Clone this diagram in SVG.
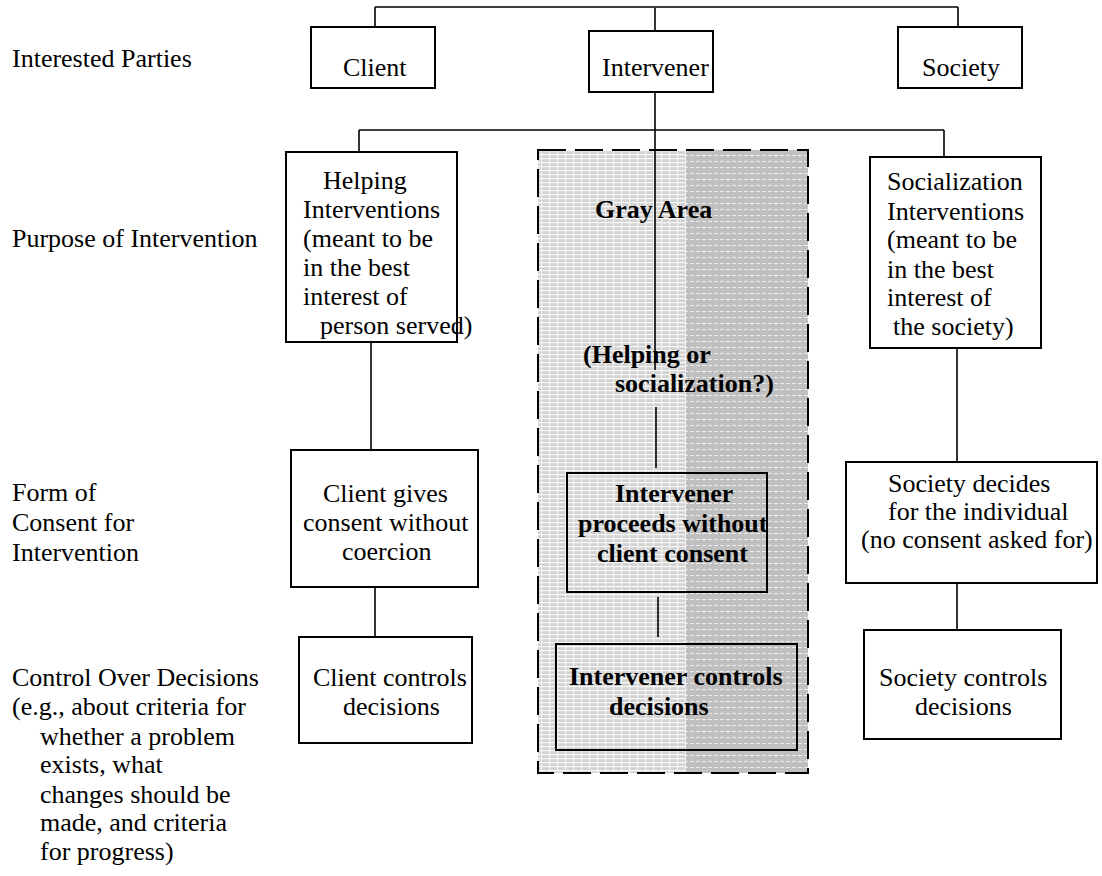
<svg xmlns="http://www.w3.org/2000/svg" width="1102" height="876" viewBox="0 0 1102 876">
<style>
text{font-family:"Liberation Serif","Times New Roman",serif;font-size:26px;fill:#000}
.b{font-weight:bold}
.box{fill:none;stroke:#000;stroke-width:2}
.wbox{fill:#fff;stroke:#000;stroke-width:2}
.ln{stroke:#000;stroke-width:1.6;fill:none}
</style>
<defs>
<pattern id="pl" width="8" height="4" patternUnits="userSpaceOnUse">
<rect width="8" height="4" fill="#d2d2d2"/>
<rect y="2" width="8" height="1.2" fill="#fafafa"/>
<rect x="5" width="1.2" height="4" fill="#f2f2f2"/>
</pattern>
<pattern id="pr" width="6" height="6" patternUnits="userSpaceOnUse">
<rect width="6" height="6" fill="#c0c0c0"/>
<rect y="5" width="4" height="1" fill="#ececec"/>
</pattern>
</defs>
<rect width="1102" height="876" fill="#fff"/>

<g id="gray-area">
<rect x="538" y="150" width="148" height="623" fill="url(#pl)"/>
<rect x="686" y="150" width="122" height="623" fill="url(#pr)"/>
<rect x="538" y="150" width="270" height="623" fill="none" stroke="#000" stroke-width="2" stroke-dasharray="28 9"/>
<text class="b" x="595" y="218">Gray Area</text>
<text class="b" x="583" y="363">(Helping or</text>
<text class="b" x="615" y="392">socialization?)</text>
</g>

<g id="labels">
<text x="12" y="67">Interested Parties</text>
<text x="12" y="247">Purpose of Intervention</text>
<text x="12" y="501">Form of</text>
<text x="12" y="531">Consent for</text>
<text x="12" y="561">Intervention</text>
<text x="12" y="686">Control Over Decisions</text>
<text x="12" y="715">(e.g., about criteria for</text>
<text x="40" y="745">whether a problem</text>
<text x="40" y="773">exists, what</text>
<text x="40" y="803">changes should be</text>
<text x="40" y="831">made, and criteria</text>
<text x="40" y="860">for progress)</text>
</g>

<g id="connectors">
<path class="ln" d="M375 7H958"/>
<path class="ln" d="M375 7V27"/>
<path class="ln" d="M655 8V31" stroke-width="2.4"/>
<path class="ln" d="M958 7V27"/>
<path class="ln" d="M655 92V370"/>
<path class="ln" d="M359 130H944"/>
<path class="ln" d="M359 130V152"/>
<path class="ln" d="M944 130V157"/>
<path class="ln" d="M656 407V468"/>
<path class="ln" d="M658 597V637"/>
<path class="ln" d="M371 342V450"/>
<path class="ln" d="M375 587V637"/>
<path class="ln" d="M957 348V462"/>
<path class="ln" d="M957 583V630"/>
</g>

<g id="client">
<rect class="wbox" x="311" y="27" width="124" height="61"/>
<text x="343" y="76">Client</text>
</g>
<g id="intervener">
<rect class="wbox" x="589" y="31" width="124" height="61"/>
<text x="602" y="76">Intervener</text>
</g>
<g id="society">
<rect class="wbox" x="898" y="27" width="124" height="61"/>
<text x="922" y="76">Society</text>
</g>

<g id="helping">
<rect class="wbox" x="286" y="152" width="171" height="190"/>
<text x="323" y="189">Helping</text>
<text x="303" y="218">Interventions</text>
<text x="303" y="247">(meant to be</text>
<text x="303" y="276">in the best</text>
<text x="303" y="305">interest of</text>
<text x="320" y="334">person served)</text>
</g>

<g id="socialization">
<rect class="wbox" x="870" y="157" width="171" height="191"/>
<text x="887" y="190">Socialization</text>
<text x="887" y="220">Interventions</text>
<text x="887" y="248">(meant to be</text>
<text x="887" y="278">in the best</text>
<text x="887" y="306">interest of</text>
<text x="893" y="335">the society)</text>
</g>

<g id="client-consent">
<rect class="wbox" x="291" y="450" width="187" height="137"/>
<text x="323" y="502">Client gives</text>
<text x="303" y="531">consent without</text>
<text x="342" y="560">coercion</text>
</g>

<g id="intervener-consent">
<rect class="box" x="567" y="473" width="200" height="119"/>
<text class="b" x="615" y="502">Intervener</text>
<text class="b" x="578" y="532">proceeds without</text>
<text class="b" x="597" y="562">client consent</text>
</g>

<g id="society-consent">
<rect class="wbox" x="846" y="462" width="251" height="121"/>
<text x="888" y="492">Society decides</text>
<text x="888" y="520">for the individual</text>
<text x="861" y="548">(no consent asked for)</text>
</g>

<g id="client-control">
<rect class="wbox" x="299" y="637" width="173" height="106"/>
<text x="313" y="686">Client controls</text>
<text x="343" y="715">decisions</text>
</g>

<g id="intervener-control">
<rect class="box" x="556" y="644" width="241" height="106"/>
<text class="b" x="569" y="685">Intervener controls</text>
<text class="b" x="609" y="715">decisions</text>
</g>

<g id="society-control">
<rect class="wbox" x="864" y="630" width="197" height="109"/>
<text x="879" y="686">Society controls</text>
<text x="915" y="715">decisions</text>
</g>
</svg>
